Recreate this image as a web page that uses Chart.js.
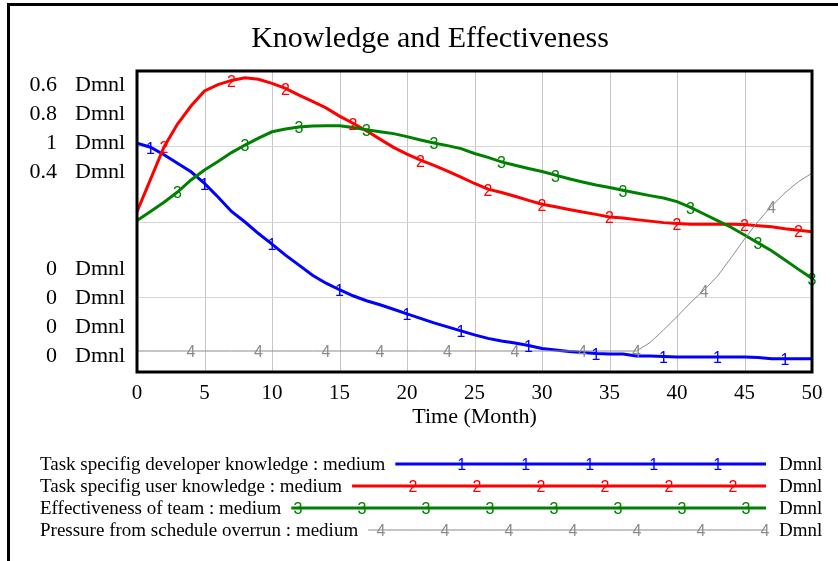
<!DOCTYPE html>
<html>
<head>
<meta charset="utf-8">
<title>Knowledge and Effectiveness</title>
<script src="https://cdn.jsdelivr.net/npm/chart.js@4/dist/chart.umd.min.js"></script>
<style>
  html, body { margin: 0; padding: 0; background: #ffffff; }
  #wrap { width: 838px; height: 561px; position: relative; }
</style>
</head>
<body>
<div id="wrap"><canvas id="chart" width="838" height="561"></canvas></div>
<script>
// Simulation output, one value per month (Time 0..50, Month)
const months = Array.from({ length: 51 }, (_, i) => i);

const developerKnowledge = [
  0.456, 0.448, 0.433, 0.416, 0.399, 0.376, 0.349, 0.320, 0.299, 0.276,
  0.255, 0.233, 0.213, 0.193, 0.177, 0.164, 0.152, 0.142, 0.134, 0.125,
  0.116, 0.107, 0.098, 0.090, 0.082, 0.074, 0.067, 0.062, 0.058, 0.053,
  0.047, 0.044, 0.041, 0.039, 0.037, 0.036, 0.036, 0.032, 0.032, 0.031,
  0.030, 0.030, 0.030, 0.030, 0.030, 0.030, 0.029, 0.0265, 0.0265, 0.0265,
  0.0265
];

const userKnowledge = [
  0.426, 0.512, 0.598, 0.659, 0.707, 0.747, 0.764, 0.775, 0.782, 0.778,
  0.767, 0.754, 0.736, 0.719, 0.702, 0.680, 0.661, 0.641, 0.619, 0.597,
  0.579, 0.563, 0.549, 0.534, 0.518, 0.501, 0.486, 0.477, 0.467, 0.456,
  0.446, 0.439, 0.432, 0.425, 0.419, 0.412, 0.409, 0.405, 0.401, 0.397,
  0.395, 0.393, 0.393, 0.393, 0.393, 0.392, 0.389, 0.386, 0.381, 0.377,
  0.373
];

const teamEffectiveness = [
  0.503, 0.533, 0.564, 0.598, 0.638, 0.671, 0.699, 0.729, 0.754, 0.777,
  0.798, 0.807, 0.814, 0.817, 0.818, 0.818, 0.812, 0.805, 0.798, 0.792,
  0.782, 0.771, 0.761, 0.752, 0.742, 0.726, 0.713, 0.698, 0.687, 0.676,
  0.666, 0.654, 0.642, 0.631, 0.621, 0.613, 0.604, 0.595, 0.586, 0.578,
  0.566, 0.547, 0.525, 0.503, 0.481, 0.455, 0.429, 0.403, 0.372, 0.341,
  0.311
];

const schedulePressure = [
  0, 0, 0, 0, 0, 0, 0, 0, 0, 0,
  0, 0, 0, 0, 0, 0, 0, 0, 0, 0,
  0, 0, 0, 0, 0, 0, 0, 0, 0, 0,
  0, 0, 0, 0, 0, 0, 0, 0, 0.012, 0.030,
  0.049, 0.069, 0.087, 0.107, 0.133, 0.160, 0.185, 0.207, 0.226, 0.242,
  0.254
];

// Months at which each curve carries its number tag
const devMarks = [1, 5, 10, 15, 20, 24, 29, 34, 39, 43, 48];
const userMarks = [2, 7, 11, 16, 21, 26, 30, 35, 40, 45, 49];
const effMarks = [3, 8, 12, 17, 22, 27, 31, 36, 41, 46, 50];
const pressMarks = [4, 9, 14, 18, 23, 28, 33, 37, 42, 47];

// Axis text
const xTicks = [0, 5, 10, 15, 20, 25, 30, 35, 40, 45, 50];
const scaleTopLabels = ['0.6', '0.8', '1', '0.4'];
const scaleBottomLabels = ['0', '0', '0', '0'];
const unitLabel = 'Dmnl';
const chartTitle = 'Knowledge and Effectiveness';
const xTitle = 'Time (Month)';

const seriesNames = [
  'Task specifig developer knowledge : medium',
  'Task specifig user knowledge : medium',
  'Effectiveness of team : medium',
  'Pressure from schedule overrun : medium'
];
const seriesTags = ['1', '2', '3', '4'];

const COLORS = ['#0000ff', '#ff0000', '#008000', '#8c8c8c'];
const WIDTHS = [3, 3, 3, 1];
const SERIF = '"Liberation Serif", "Times New Roman", serif';
const SANS = '"Liberation Sans", Arial, sans-serif';

const seriesValues = [developerKnowledge, userKnowledge, teamEffectiveness, schedulePressure];
const seriesMarks = [devMarks, userMarks, effMarks, pressMarks];
const axisIds = ['yDev', 'yUser', 'yEff', 'yPress'];

function text(ctx, s, x, y, size, family, align, color) {
  ctx.save();
  ctx.font = size + 'px ' + family;
  ctx.fillStyle = color || '#000';
  ctx.textBaseline = 'alphabetic';
  ctx.textAlign = align;
  const w = ctx.measureText(s).width;
  ctx.fillText(s, x, y);
  ctx.restore();
  return w;
}

function tag(ctx, s, x, y, color) {
  ctx.save();
  ctx.font = '16px ' + SANS;
  ctx.fillStyle = color;
  ctx.textAlign = 'center';
  ctx.textBaseline = 'middle';
  ctx.fillText(s, x, y + 2);
  ctx.restore();
}

const vensimDecor = {
  id: 'vensimDecor',
  beforeDatasetsDraw(chart) {
    const { ctx, chartArea: a, scales } = chart;
    ctx.save();
    ctx.lineWidth = 1;
    ctx.strokeStyle = '#c6c6c6';
    xTicks.slice(1, -1).forEach(t => {
      const x = Math.round(scales.x.getPixelForValue(t)) + 0.5;
      ctx.beginPath(); ctx.moveTo(x, a.top); ctx.lineTo(x, a.bottom); ctx.stroke();
    });
    ctx.strokeStyle = '#d6d6d6';
    [1, 2, 3].forEach(v => {
      const y = Math.round(scales.yGrid.getPixelForValue(v)) + 0.5;
      ctx.beginPath(); ctx.moveTo(a.left, y); ctx.lineTo(a.right, y); ctx.stroke();
    });
    ctx.restore();
  },
  afterDatasetsDraw(chart) {
    const { ctx, chartArea: a, scales } = chart;

    // number tags riding on each curve
    seriesValues.forEach((vals, s) => {
      const ys = scales[axisIds[s]];
      seriesMarks[s].forEach(t => {
        const i = months.indexOf(t);
        tag(ctx, seriesTags[s], scales.x.getPixelForValue(t), ys.getPixelForValue(vals[i]), COLORS[s]);
      });
    });

    // plot frame
    ctx.save();
    ctx.strokeStyle = '#000';
    ctx.lineWidth = 3;
    ctx.strokeRect(a.left, a.top, a.right - a.left, a.bottom - a.top);
    // outer frame (top and left edges)
    ctx.beginPath();
    ctx.moveTo(8.5, 561); ctx.lineTo(8.5, 4.5); ctx.lineTo(838, 4.5);
    ctx.stroke();
    ctx.restore();

    // title
    text(ctx, chartTitle, 430, 47, 30, SERIF, 'center', '#000');

    // stacked scale labels
    const topBase = [91, 120, 149, 178];
    const botBase = [275, 304, 333, 362];
    scaleTopLabels.forEach((s, i) => {
      text(ctx, s, 57, topBase[i], 22, SERIF, 'right', '#000');
      text(ctx, unitLabel, 75, topBase[i], 22, SERIF, 'left', '#000');
    });
    scaleBottomLabels.forEach((s, i) => {
      text(ctx, s, 57, botBase[i], 22, SERIF, 'right', '#000');
      text(ctx, unitLabel, 75, botBase[i], 22, SERIF, 'left', '#000');
    });

    // x ticks and title
    xTicks.forEach(t => {
      text(ctx, String(t), scales.x.getPixelForValue(t), 399, 21, SERIF, 'center', '#000');
    });
    text(ctx, xTitle, (a.left + a.right) / 2, 423, 22, SERIF, 'center', '#000');

    // legend
    const rowLine = [464, 486, 508, 530];
    const tagOffset = [13.7, 29, 42, 61];
    const lineEnd = 766;
    seriesNames.forEach((name, s) => {
      const w = text(ctx, name, 40, rowLine[s] + 6, 19, SERIF, 'left', '#000');
      const x0 = 40 + w + 10;
      ctx.save();
      ctx.strokeStyle = COLORS[s];
      ctx.lineWidth = WIDTHS[s];
      ctx.beginPath();
      ctx.moveTo(x0, rowLine[s]); ctx.lineTo(lineEnd, rowLine[s]);
      ctx.stroke();
      ctx.restore();
      for (let x = tagOffset[s]; x <= lineEnd; x += 64) {
        if (x >= x0 + 4) tag(ctx, seriesTags[s], x, rowLine[s], COLORS[s]);
      }
      text(ctx, unitLabel, 779, rowLine[s] + 6, 19, SERIF, 'left', '#000');
    });
  }
};

const datasets = seriesValues.map((vals, s) => ({
  label: seriesNames[s],
  data: months.map((t, i) => ({ x: t, y: vals[i] })),
  yAxisID: axisIds[s],
  borderColor: COLORS[s],
  borderWidth: WIDTHS[s],
  pointRadius: 0,
  tension: 0,
  fill: false,
  order: 3 - s
}));

new Chart(document.getElementById('chart'), {
  type: 'line',
  data: { datasets },
  options: {
    responsive: false,
    animation: false,
    devicePixelRatio: 1,
    layout: { padding: { left: 137, top: 71, right: 26, bottom: 189 } },
    plugins: { legend: { display: false }, tooltip: { enabled: false }, title: { display: false } },
    scales: {
      x: { type: 'linear', min: 0, max: 50, display: false },
      yDev: { type: 'linear', min: 0, max: 0.6, display: false },
      yUser: { type: 'linear', min: 0, max: 0.8, display: false },
      yEff: { type: 'linear', min: 0, max: 1, display: false },
      yPress: { type: 'linear', min: -0.03, max: 0.4, display: false },
      yGrid: { type: 'linear', min: 0, max: 4, display: false }
    }
  },
  plugins: [vensimDecor]
});
</script>
</body>
</html>
